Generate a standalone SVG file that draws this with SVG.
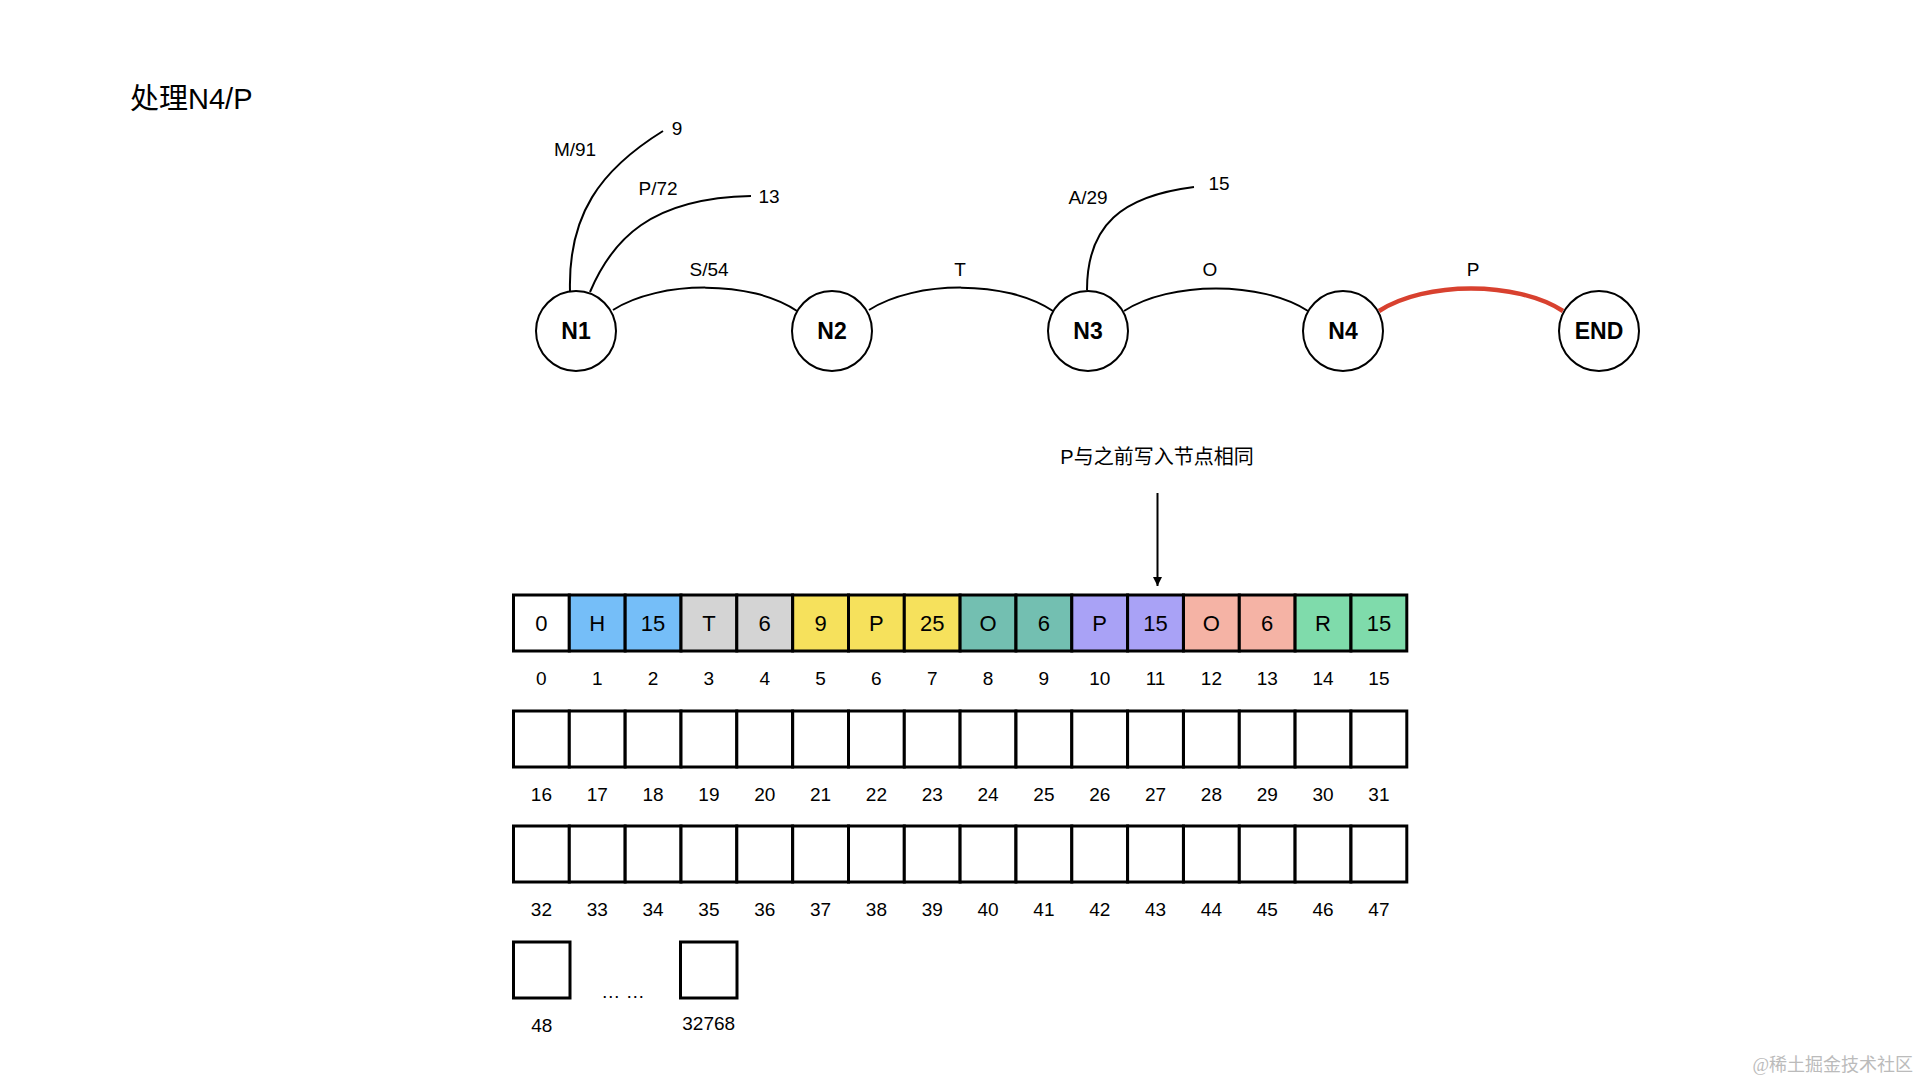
<svg xmlns="http://www.w3.org/2000/svg" width="1920" height="1080" viewBox="0 0 1920 1080">
<defs>
<style>
.t{font-family:"Liberation Sans","Noto Sans CJK SC",sans-serif;fill:#000}
.lbl{font-size:19px;text-anchor:middle}
.nl{font-size:23px;font-weight:bold;text-anchor:middle}
.cv{font-size:22px;text-anchor:middle}
.node{fill:#fff;stroke:#000;stroke-width:2}
.edge{fill:none;stroke:#000;stroke-width:2}
.hot{fill:none;stroke:#D8412F;stroke-width:4.5}
.cell{stroke:#000;stroke-width:3}
.e{fill:#fff}
.b{fill:#75BEF8}.g{fill:#D4D4D4}.y{fill:#F6E15C}.tl{fill:#73BFB1}.p{fill:#A9A2F6}.s{fill:#F5B3A5}.gr{fill:#7FDBAB}
</style>
<marker id="ah" viewBox="0 0 10 10" refX="10" refY="5" markerWidth="9" markerHeight="9" markerUnits="userSpaceOnUse" orient="auto">
<path d="M0,0 L10,5 L0,10 z" fill="#000"/>
</marker>
</defs>
<rect width="1920" height="1080" fill="#fff"/>
<text class="t" x="130" y="109" font-size="29">处理N4/P</text>

<g id="connectors">
<path id="e-m91" class="edge" d="M570,291 C568,215 600,170 663,131"/>
<path id="e-p72" class="edge" d="M590,292 C612,240 650,198 751,196"/>
<path id="e-s54" class="edge" d="M613,310 C660,280 752,280 797,311"/>
<path id="e-t" class="edge" d="M869,310 C916,280 1007,280 1053,311"/>
<path id="e-a29" class="edge" d="M1087,290 C1087,225 1122,196 1194,187"/>
<path id="e-o" class="edge" d="M1124,311 C1170,281 1262,281 1308,311"/>
<path id="e-p" class="hot" d="M1379,311 C1425,281 1517,281 1563,311"/>
<line id="e-note" x1="1157.5" y1="493" x2="1157.5" y2="586" stroke="#000" stroke-width="2" marker-end="url(#ah)"/>
</g>

<g id="edge-labels">
<text class="t lbl" x="575" y="156">M/91</text>
<text class="t lbl" x="677" y="135">9</text>
<text class="t lbl" x="658" y="195">P/72</text>
<text class="t lbl" x="769" y="203">13</text>
<text class="t lbl" x="709" y="276">S/54</text>
<text class="t lbl" x="960" y="276">T</text>
<text class="t lbl" x="1088" y="204">A/29</text>
<text class="t lbl" x="1219" y="190">15</text>
<text class="t lbl" x="1210" y="276">O</text>
<text class="t lbl" x="1473" y="276">P</text>
</g>

<g id="N1"><circle class="node" cx="576" cy="331" r="40"/><text class="t nl" x="576" y="339">N1</text></g>
<g id="N2"><circle class="node" cx="832" cy="331" r="40"/><text class="t nl" x="832" y="339">N2</text></g>
<g id="N3"><circle class="node" cx="1088" cy="331" r="40"/><text class="t nl" x="1088" y="339">N3</text></g>
<g id="N4"><circle class="node" cx="1343" cy="331" r="40"/><text class="t nl" x="1343" y="339">N4</text></g>
<g id="END"><circle class="node" cx="1599" cy="331" r="40"/><text class="t nl" x="1599" y="339">END</text></g>

<g id="note"><text class="t" x="1157" y="464" font-size="20" text-anchor="middle">P与之前写入节点相同</text></g>

<g id="row1">
<rect class="cell e" x="513.5" y="595" width="55.8" height="56"/>
<rect class="cell b" x="569.3" y="595" width="55.8" height="56"/>
<rect class="cell b" x="625.2" y="595" width="55.8" height="56"/>
<rect class="cell g" x="681.0" y="595" width="55.8" height="56"/>
<rect class="cell g" x="736.8" y="595" width="55.8" height="56"/>
<rect class="cell y" x="792.7" y="595" width="55.8" height="56"/>
<rect class="cell y" x="848.5" y="595" width="55.8" height="56"/>
<rect class="cell y" x="904.3" y="595" width="55.8" height="56"/>
<rect class="cell tl" x="960.1" y="595" width="55.8" height="56"/>
<rect class="cell tl" x="1016.0" y="595" width="55.8" height="56"/>
<rect class="cell p" x="1071.8" y="595" width="55.8" height="56"/>
<rect class="cell p" x="1127.6" y="595" width="55.8" height="56"/>
<rect class="cell s" x="1183.5" y="595" width="55.8" height="56"/>
<rect class="cell s" x="1239.3" y="595" width="55.8" height="56"/>
<rect class="cell gr" x="1295.1" y="595" width="55.8" height="56"/>
<rect class="cell gr" x="1351.0" y="595" width="55.8" height="56"/>
<g class="t cv">
<text x="541.4" y="631">0</text><text x="597.2" y="631">H</text><text x="653.1" y="631">15</text><text x="708.9" y="631">T</text>
<text x="764.7" y="631">6</text><text x="820.6" y="631">9</text><text x="876.4" y="631">P</text><text x="932.2" y="631">25</text>
<text x="988.0" y="631">O</text><text x="1043.9" y="631">6</text><text x="1099.7" y="631">P</text><text x="1155.5" y="631">15</text>
<text x="1211.4" y="631">O</text><text x="1267.2" y="631">6</text><text x="1323.0" y="631">R</text><text x="1378.9" y="631">15</text>
</g>
<g class="t lbl">
<text x="541.4" y="685">0</text><text x="597.2" y="685">1</text><text x="653.1" y="685">2</text><text x="708.9" y="685">3</text>
<text x="764.7" y="685">4</text><text x="820.6" y="685">5</text><text x="876.4" y="685">6</text><text x="932.2" y="685">7</text>
<text x="988.0" y="685">8</text><text x="1043.9" y="685">9</text><text x="1099.7" y="685">10</text><text x="1155.5" y="685">11</text>
<text x="1211.4" y="685">12</text><text x="1267.2" y="685">13</text><text x="1323.0" y="685">14</text><text x="1378.9" y="685">15</text>
</g>
</g>

<g id="row2">
<rect class="cell e" x="513.5" y="711" width="55.8" height="56"/>
<rect class="cell e" x="569.3" y="711" width="55.8" height="56"/>
<rect class="cell e" x="625.2" y="711" width="55.8" height="56"/>
<rect class="cell e" x="681.0" y="711" width="55.8" height="56"/>
<rect class="cell e" x="736.8" y="711" width="55.8" height="56"/>
<rect class="cell e" x="792.7" y="711" width="55.8" height="56"/>
<rect class="cell e" x="848.5" y="711" width="55.8" height="56"/>
<rect class="cell e" x="904.3" y="711" width="55.8" height="56"/>
<rect class="cell e" x="960.1" y="711" width="55.8" height="56"/>
<rect class="cell e" x="1016.0" y="711" width="55.8" height="56"/>
<rect class="cell e" x="1071.8" y="711" width="55.8" height="56"/>
<rect class="cell e" x="1127.6" y="711" width="55.8" height="56"/>
<rect class="cell e" x="1183.5" y="711" width="55.8" height="56"/>
<rect class="cell e" x="1239.3" y="711" width="55.8" height="56"/>
<rect class="cell e" x="1295.1" y="711" width="55.8" height="56"/>
<rect class="cell e" x="1351.0" y="711" width="55.8" height="56"/>
<g class="t lbl">
<text x="541.4" y="801">16</text><text x="597.2" y="801">17</text><text x="653.1" y="801">18</text><text x="708.9" y="801">19</text>
<text x="764.7" y="801">20</text><text x="820.6" y="801">21</text><text x="876.4" y="801">22</text><text x="932.2" y="801">23</text>
<text x="988.0" y="801">24</text><text x="1043.9" y="801">25</text><text x="1099.7" y="801">26</text><text x="1155.5" y="801">27</text>
<text x="1211.4" y="801">28</text><text x="1267.2" y="801">29</text><text x="1323.0" y="801">30</text><text x="1378.9" y="801">31</text>
</g>
</g>

<g id="row3">
<rect class="cell e" x="513.5" y="826" width="55.8" height="56"/>
<rect class="cell e" x="569.3" y="826" width="55.8" height="56"/>
<rect class="cell e" x="625.2" y="826" width="55.8" height="56"/>
<rect class="cell e" x="681.0" y="826" width="55.8" height="56"/>
<rect class="cell e" x="736.8" y="826" width="55.8" height="56"/>
<rect class="cell e" x="792.7" y="826" width="55.8" height="56"/>
<rect class="cell e" x="848.5" y="826" width="55.8" height="56"/>
<rect class="cell e" x="904.3" y="826" width="55.8" height="56"/>
<rect class="cell e" x="960.1" y="826" width="55.8" height="56"/>
<rect class="cell e" x="1016.0" y="826" width="55.8" height="56"/>
<rect class="cell e" x="1071.8" y="826" width="55.8" height="56"/>
<rect class="cell e" x="1127.6" y="826" width="55.8" height="56"/>
<rect class="cell e" x="1183.5" y="826" width="55.8" height="56"/>
<rect class="cell e" x="1239.3" y="826" width="55.8" height="56"/>
<rect class="cell e" x="1295.1" y="826" width="55.8" height="56"/>
<rect class="cell e" x="1351.0" y="826" width="55.8" height="56"/>
<g class="t lbl">
<text x="541.4" y="916">32</text><text x="597.2" y="916">33</text><text x="653.1" y="916">34</text><text x="708.9" y="916">35</text>
<text x="764.7" y="916">36</text><text x="820.6" y="916">37</text><text x="876.4" y="916">38</text><text x="932.2" y="916">39</text>
<text x="988.0" y="916">40</text><text x="1043.9" y="916">41</text><text x="1099.7" y="916">42</text><text x="1155.5" y="916">43</text>
<text x="1211.4" y="916">44</text><text x="1267.2" y="916">45</text><text x="1323.0" y="916">46</text><text x="1378.9" y="916">47</text>
</g>
</g>

<g id="row4">
<rect class="cell e" x="513.5" y="942" width="56.5" height="56"/>
<rect class="cell e" x="680.5" y="942" width="56.5" height="56"/>
<text class="t lbl" x="541.7" y="1032">48</text>
<text class="t lbl" x="623" y="998">… …</text>
<text class="t lbl" x="708.7" y="1030">32768</text>
</g>

<text x="1913" y="1071" font-family="Liberation Serif,'Noto Sans CJK SC',serif" font-size="18" fill="#BBBBBB" text-anchor="end">@稀土掘金技术社区</text>
</svg>
